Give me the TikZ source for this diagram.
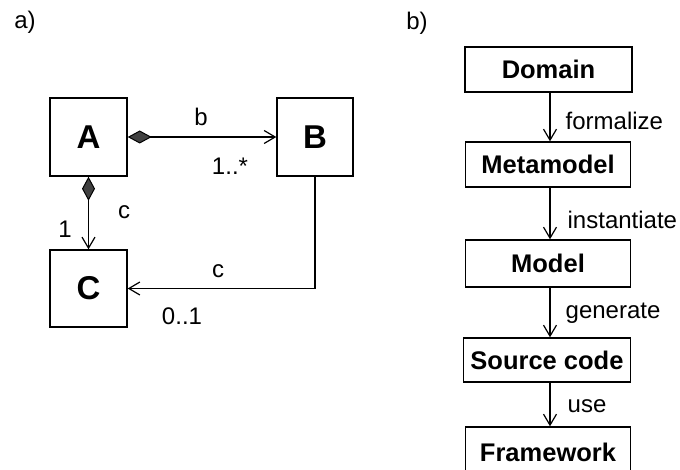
\documentclass[tikz,border=0pt]{standalone}
\usepackage{fontspec}
\setmainfont{Liberation Sans}
\usetikzlibrary{arrows.meta}
\begin{document}
\begin{tikzpicture}[x=1pt,y=-1pt,
  line width=1.3pt,
  classbox/.style={draw, line width=1.4pt, inner sep=0pt,
    font=\fontsize{33}{36}\selectfont\bfseries},
  flowbox/.style={draw, line width=1.4pt, inner sep=0pt,
    font=\fontsize{25.5}{28}\selectfont\bfseries},
  lbl/.style={font=\fontsize{24}{28}\selectfont, inner sep=0pt},
  nav/.style={-{Straight Barb[length=11pt,width=13pt,line width=1.2pt]}},
  comp/.style={{Diamond[length=24pt,width=13pt,fill=black!75,line width=1pt]}-{Straight Barb[length=11pt,width=13pt,line width=1.2pt]}}]
  \useasboundingbox (0,0) rectangle (680,470);
  \clip (0,0) rectangle (680,470);
  \fill[white] (0,0) rectangle (680,470);

  % panel captions
  \node[lbl] (capa) at (25,22) {a)};
  \node[lbl] (capb) at (417,23) {b)};

  % a) class diagram
  \node[classbox, minimum width=77pt, minimum height=78pt] (A) at (88.5,137) {A};
  \node[classbox, minimum width=76pt, minimum height=78pt] (B) at (315,137) {B};
  \node[classbox, minimum width=77pt, minimum height=77pt] (C) at (88.5,288.5) {C};

  \draw[comp] (A.east) -- (B.west);
  \draw[comp] (A.south) -- (C.north);
  \draw[nav] (B.south) |- (C.east);

  \node[lbl] (lb) at (201,117) {b};
  \node[lbl] (lmany) at (230,166) {1..*};
  \node[lbl] (lc1) at (124,212) {c};
  \node[lbl] (lone) at (65,229) {1};
  \node[lbl] (lc2) at (218,271) {c};
  \node[lbl] (lopt) at (182,316) {0..1};

  % b) development chain
  \node[flowbox, minimum width=167pt, minimum height=45pt] (dom) at (548.5,69.5) {Domain};
  \node[flowbox, minimum width=165pt, minimum height=45pt] (meta) at (548,164.5) {Metamodel};
  \node[flowbox, minimum width=165pt, minimum height=47pt] (mod) at (548,263.5) {Model};
  \node[flowbox, minimum width=167pt, minimum height=44pt] (src) at (547,360) {Source code};
  \node[flowbox, minimum width=165pt, minimum height=50pt] (fw) at (548,452) {Framework};

  \draw[nav] (dom.south -| 550,0) -- (meta.north -| 550,0);
  \draw[nav] (meta.south -| 550,0) -- (mod.north -| 550,0);
  \draw[nav] (mod.south -| 550,0) -- (src.north -| 550,0);
  \draw[nav] (src.south -| 550,0) -- (fw.north -| 550,0);

  \node[lbl, anchor=west] (tf) at (565,121) {formalize};
  \node[lbl, anchor=west] (ti) at (567,220) {instantiate};
  \node[lbl, anchor=west] (tg) at (565,313) {generate};
  \node[lbl, anchor=west] (tu) at (567,406) {use};
\end{tikzpicture}
\end{document}
